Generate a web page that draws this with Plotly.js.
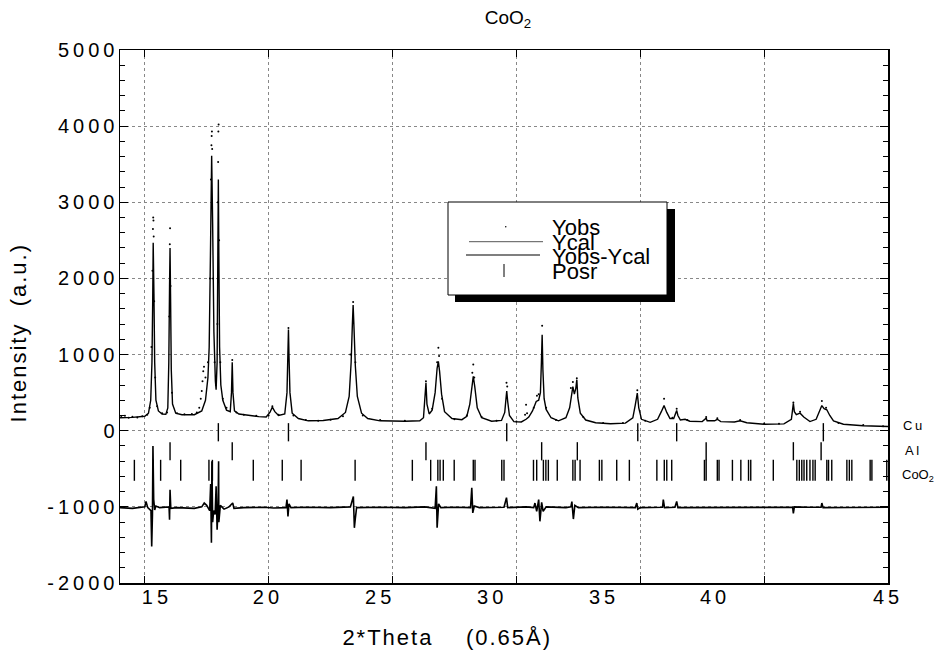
<!DOCTYPE html>
<html><head><meta charset="utf-8">
<script src="https://cdn.plot.ly/plotly-3.0.1.min.js"></script>
<style>body{margin:0;background:#fff}#chart{width:937px;height:659px}
.xtitle,.ytitle{letter-spacing:2px}</style>
</head><body><div id="chart"></div>
<script>
// ---- Data ----
const xCalc = [14.00,14.50,15.00,15.15,15.24,15.29,15.32,15.34,15.37,15.40,15.45,15.55,15.70,15.85,15.93,15.97,16.00,16.02,16.04,16.07,16.12,16.25,16.50,17.00,17.30,17.45,17.55,17.60,17.65,17.70,17.74,17.79,17.85,17.88,17.92,17.95,17.97,17.99,18.02,18.07,18.15,18.30,18.45,18.50,18.53,18.56,18.62,18.80,19.20,19.60,19.90,20.05,20.15,20.25,20.40,20.65,20.74,20.78,20.80,20.82,20.86,20.95,21.20,21.60,22.20,22.80,23.10,23.25,23.33,23.38,23.41,23.44,23.50,23.58,23.75,24.00,24.50,25.50,26.10,26.25,26.31,26.35,26.39,26.48,26.60,26.72,26.80,26.85,26.90,26.98,27.10,27.40,27.80,28.00,28.12,28.21,28.26,28.32,28.42,28.60,29.00,29.40,29.53,29.58,29.61,29.65,29.72,29.90,30.20,30.39,30.50,30.65,30.80,30.90,30.97,31.01,31.04,31.07,31.12,31.20,31.40,31.70,32.00,32.15,32.24,32.28,32.34,32.40,32.44,32.48,32.58,32.80,33.20,33.80,34.40,34.70,34.80,34.88,34.94,35.05,35.40,35.70,35.85,35.96,36.07,36.20,36.35,36.44,36.47,36.52,36.62,36.81,37.00,37.50,37.62,37.66,37.70,38.00,38.11,38.25,38.80,39.03,39.30,40.00,40.80,41.10,41.18,41.22,41.30,41.45,41.60,41.85,42.10,42.25,42.33,42.42,42.53,42.65,42.80,43.20,44.00,45.00];
const yCalc = [170,175,190,230,400,900,1700,2470,1800,900,400,260,220,215,300,900,1900,2400,1800,800,350,230,210,210,260,400,700,1100,2300,3610,2700,1300,650,540,900,2200,3300,2300,1100,600,400,270,250,500,900,500,260,220,200,185,180,240,310,250,200,220,500,1000,1330,1000,500,230,160,130,135,160,240,450,900,1400,1650,1400,850,450,230,160,130,125,130,170,400,630,350,220,270,500,820,910,780,480,250,160,145,190,350,620,715,580,300,170,125,135,240,420,520,380,200,120,115,150,180,260,385,400,500,900,1260,800,420,280,170,130,170,300,540,580,480,560,670,430,230,140,105,92,100,170,340,495,300,150,110,150,250,330,240,160,160,240,265,200,140,150,125,120,150,165,130,130,150,120,115,130,105,85,90,150,360,250,210,230,180,120,150,260,330,290,275,200,130,85,65,55];

const xObs = [14.05,14.2,14.35,14.5,14.7,14.9,15.1,15.2,15.27,15.31,15.33,15.34,15.35,15.36,15.38,15.42,15.5,15.7,15.9,15.99,16.01,16.02,16.04,16.1,16.3,16.6,16.9,17.1,17.2,17.26,17.3,17.33,17.36,17.39,17.45,17.55,17.63,17.67,17.69,17.70,17.71,17.72,17.76,17.82,17.87,17.93,17.95,17.96,17.97,17.98,18.0,18.05,18.15,18.3,18.53,18.7,19.0,19.5,20.0,20.15,20.4,20.8,21.0,21.5,22.0,22.5,23.0,23.3,23.41,23.5,23.8,24.5,25.5,26.35,26.6,26.8,26.85,26.88,27.0,27.5,28.0,28.22,28.26,28.3,28.6,29.2,29.6,29.63,30.0,30.35,30.39,30.43,30.7,30.83,30.9,31.04,31.2,31.6,32.2,32.28,32.44,32.7,33.5,34.3,34.88,35.2,35.96,36.3,36.47,36.9,37.66,38.11,39.03,40.0,40.6,41.18,41.45,42.33,42.5,43.0,44.0,44.8];
const yObs = [180,195,170,185,175,190,210,300,1100,2100,2650,2800,2760,2550,1700,700,320,230,240,1500,2450,2660,1900,500,230,215,220,240,300,420,520,650,780,840,700,900,2000,3300,3750,3870,3930,3700,2000,900,600,1400,3000,3530,3930,4020,2500,900,420,300,930,240,210,195,200,320,210,1350,200,140,130,145,190,1000,1690,900,200,140,130,650,290,900,1090,980,420,150,200,760,870,700,180,130,630,580,120,210,340,230,300,460,480,1380,300,140,560,640,690,180,100,100,530,130,420,170,290,140,180,165,140,95,90,370,250,390,300,100,75,60];

const xDiff = [14.0,14.5,15.0,15.05,15.12,15.25,15.28,15.31,15.33,15.36,15.40,15.45,15.6,15.98,16.00,16.02,16.05,16.3,17.0,17.3,17.4,17.5,17.62,17.66,17.69,17.71,17.74,17.78,17.84,17.88,17.92,17.96,17.98,17.99,18.05,18.2,18.4,18.55,18.6,19.0,19.8,20.2,20.70,20.74,20.78,20.82,20.9,21.5,22.5,23.3,23.42,23.46,23.5,23.55,24.5,25.5,26.3,26.72,26.77,26.80,26.86,26.95,27.5,28.15,28.2,28.24,28.3,28.5,29.5,29.6,29.65,30.0,30.4,30.7,30.75,30.82,30.9,30.95,31.02,31.08,31.2,32.0,32.2,32.24,32.3,32.36,32.5,33.5,34.8,34.86,34.9,35.0,35.9,35.93,35.98,36.4,36.47,36.52,37.5,38.5,39.5,40.5,41.15,41.18,41.22,41.8,42.3,42.33,42.38,43.5,45.0];
const yDiff = [-1010,-1020,-1000,-930,-1010,-1050,-1520,-1100,-200,-900,-1040,-990,-1010,-1000,-1170,-775,-1020,-1010,-1020,-1000,-950,-980,-1050,-700,-1470,-400,-1200,-1050,-1100,-730,-1300,-1000,-400,-1200,-980,-1030,-1000,-950,-1020,-1010,-1005,-1015,-1010,-905,-1125,-960,-1010,-1005,-1010,-1000,-863,-1275,-1150,-1010,-1005,-1010,-1000,-1020,-730,-1275,-960,-1010,-1005,-1010,-750,-1080,-990,-1010,-1005,-880,-1010,-1005,-1000,-1010,-950,-1060,-905,-1190,-940,-1060,-1000,-1010,-1000,-930,-1160,-980,-1010,-1005,-1010,-950,-1030,-1010,-1005,-905,-1010,-1005,-930,-1010,-1010,-1005,-1010,-1005,-1005,-1085,-1000,-1005,-1005,-950,-1010,-1008,-1005];

const posCu = [17.97,20.80,29.61,34.90,36.47,42.39];
const posAl = [16.02,18.53,26.35,31.02,32.46,37.66,41.18,42.30];
const posCoO2 = [14.58,15.34,15.64,16.45,17.59,17.73,19.38,20.55,21.31,23.49,25.80,26.54,26.83,26.92,27.05,27.49,28.26,28.33,29.41,29.50,30.69,30.82,31.09,31.19,31.29,31.65,32.28,32.37,32.57,33.35,33.45,34.05,34.56,35.67,35.97,36.07,36.27,37.59,37.66,38.11,38.18,38.72,39.06,39.37,39.46,40.37,41.32,41.42,41.52,41.61,41.72,41.85,41.97,42.06,42.53,42.60,42.73,43.34,43.44,43.54,44.28,44.35,44.95];

const xTickValues = [15,20,25,30,35,40,45];
const xTickLabels = ['15','20','25','30','35','40','45'];
const yTickValues = [-2000,-1000,0,1000,2000,3000,4000,5000];
const yTickLabels = ['-2000','-1000','0','1000','2000','3000','4000','5000'];
const legendNames = ['Yobs','Ycal','Yobs-Ycal','Posr'];
const phaseNames = ['Cu','Al','CoO<sub>2</sub>'];

// ---- styling helpers ----
const TS = '\u2009';
const spaced = s => s.split('').join(TS);
const FONT = 'Liberation Sans, Arial, Helvetica, sans-serif';
// where the scanned figure printed its x labels (axis units)
const xLabelPos = [15.41,19.89,24.42,28.94,33.46,37.94,44.92];
const rowLevel = {Cu: -20, Al: -270, CoO2: -520};

const tickTrace = (xs, level, size) => ({
  type:'scatter', mode:'markers', x: xs, y: xs.map(() => level),
  marker:{symbol:'line-ns-open', size:size, color:'#000', line:{color:'#000', width:1.4}},
  hoverinfo:'skip', showlegend:false
});

const traces = [
  {type:'scatter', mode:'lines', x:xCalc, y:yCalc, line:{color:'#000', width:1.4}, name:'Ycal', showlegend:false},
  {type:'scatter', mode:'markers', x:xObs, y:yObs, marker:{color:'#000', size:2}, name:'Yobs', showlegend:false},
  {type:'scatter', mode:'lines', x:xDiff, y:yDiff, line:{color:'#000', width:1.6}, name:'Yobs-Ycal', showlegend:false},
  tickTrace(posCu, rowLevel.Cu, 13),
  tickTrace(posAl, rowLevel.Al, 13),
  tickTrace(posCoO2, rowLevel.CoO2, 15),
  {type:'scatter', mode:'markers', x:[14], y:[0], xaxis:'x2', marker:{opacity:0}, hoverinfo:'skip', showlegend:false}
];

const px = p => (p-120)/768, py = p => (583-p)/533;
const shapes = [
  {type:'rect', xref:'paper', yref:'paper', x0:px(455), x1:px(675), y0:py(302), y1:py(209), fillcolor:'#000', line:{width:0}},
  {type:'rect', xref:'paper', yref:'paper', x0:px(448), x1:px(667), y0:py(295), y1:py(202), fillcolor:'#fff', line:{color:'#000', width:1}},
  {type:'circle', xref:'paper', yref:'paper', x0:px(505), x1:px(506.5), y0:py(227.5), y1:py(226), fillcolor:'#000', line:{width:0}},
  {type:'line', xref:'paper', yref:'paper', x0:px(469), x1:px(543), y0:py(241.7), y1:py(241.7), line:{color:'#555', width:1}},
  {type:'line', xref:'paper', yref:'paper', x0:px(466), x1:px(540), y0:py(255), y1:py(255), line:{color:'#000', width:1.2}},
  {type:'line', xref:'paper', yref:'paper', x0:px(504), x1:px(504), y0:py(277), y1:py(264), line:{color:'#000', width:1}}
];
const legY = [227,242,256,271];
const annotations = legendNames.map((t,i) => ({
  text:t, xref:'paper', yref:'paper', x:px(550), y:py(legY[i]), xanchor:'left', yanchor:'middle',
  showarrow:false, font:{family:FONT, size:22, color:'#000'}
}));
const phaseY = [425,450,475], phaseX = [912,912,918];
phaseNames.forEach((t,i) => annotations.push({
  text: i<2 ? spaced(t) : t, xref:'paper', yref:'paper', x:px(phaseX[i]), y:py(phaseY[i]),
  xanchor:'center', yanchor:'middle', showarrow:false, font:{family:FONT, size:13, color:'#000'}
}));

const layout = {
  width:937, height:659,
  margin:{l:120, r:49, t:50, b:76},
  paper_bgcolor:'#fff', plot_bgcolor:'#fff',
  font:{family:FONT, color:'#000'},
  title:{text:'CoO<sub>2</sub>', font:{family:FONT, size:19, color:'#000'}, xref:'paper', x:(508-120)/768, xanchor:'center', yref:'container', y:1-17/659, yanchor:'middle'},
  xaxis:{range:[14,45], tickvals:xTickValues, showticklabels:false, ticks:'inside', ticklen:7, tickcolor:'#000',
    showgrid:true, gridcolor:'#888', griddash:'dot', gridwidth:1, zeroline:false,
    showline:true, linecolor:'#000', linewidth:1.5, mirror:'ticks',
    title:{text:'2*Theta&nbsp;&nbsp;&nbsp;&nbsp;(0.65Å)' + '&nbsp;'.repeat(14), font:{family:FONT, size:22}, standoff:46}},
  xaxis2:{range:[14,45], overlaying:'x', anchor:'y', side:'bottom', showgrid:false, showline:false, zeroline:false, ticks:'',
    tickvals:xLabelPos, ticktext:xTickLabels.map(spaced), tickfont:{family:FONT, size:20}},
  yaxis:{range:[-2000,5000], tickvals:yTickValues, ticktext:yTickLabels.map(spaced), ticks:'inside', ticklen:8, tickcolor:'#000',
    tickfont:{family:FONT, size:20}, minor:{dtick:200, ticks:'inside', ticklen:5, tickcolor:'#000', showgrid:false},
    showgrid:true, gridcolor:'#888', griddash:'dot', gridwidth:1, zeroline:false,
    showline:true, linecolor:'#000', linewidth:1.5, mirror:'ticks',
    title:{text:'Intensity&nbsp;&nbsp;(a.u.)' + '&nbsp;'.repeat(4), font:{family:FONT, size:22}, standoff:14}},
  showlegend:false,
  shapes:shapes, annotations:annotations
};
Plotly.newPlot('chart', traces, layout, {staticPlot:true, displayModeBar:false});
</script></body></html>
